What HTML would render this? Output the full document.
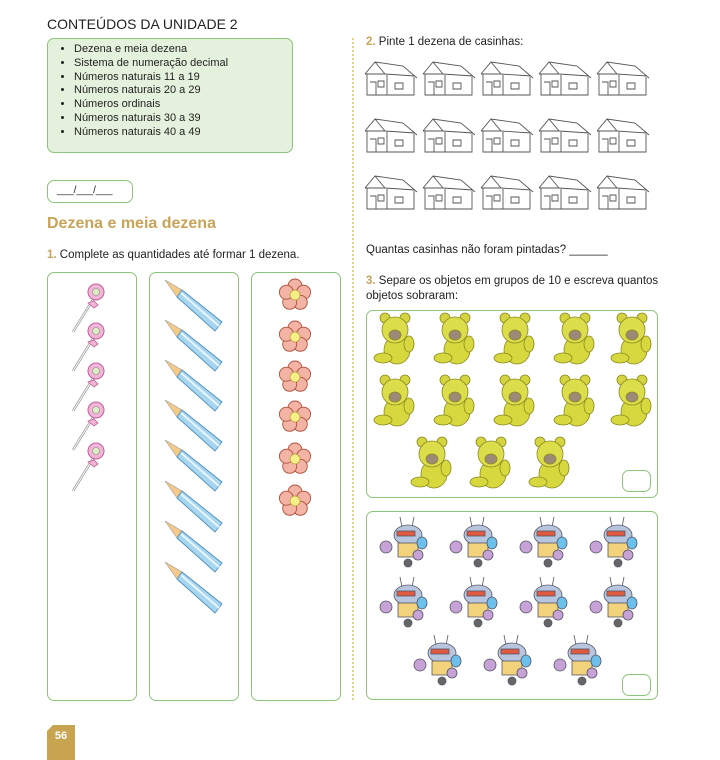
<!DOCTYPE html>
<html><head><meta charset="utf-8">
<style>
body{margin:0;width:720px;height:760px;background:#fff;position:relative;overflow:hidden;font-family:"Liberation Sans",sans-serif;color:#222}
.a{position:absolute}
.box{position:absolute;border:1.5px solid #8cc47a;border-radius:7px;box-sizing:border-box;background:#fff}
.t{position:absolute;font-size:11.5px;white-space:nowrap}
.n{color:#c8a35a;font-weight:bold}
svg{position:absolute;left:0;top:0}
</style></head><body>
<div class="t" style="left:47px;top:16px;font-size:14px">CONTEÚDOS DA UNIDADE 2</div>
<div class="box" style="left:47px;top:38px;width:246px;height:115px;background:#e4f1dc">
<ul style="margin:4px 0 0 0;padding-left:26px;font-size:11px;line-height:13.8px">
<li>Dezena e meia dezena</li><li>Sistema de numeração decimal</li><li>Números naturais 11 a 19</li><li>Números naturais 20 a 29</li><li>Números ordinais</li><li>Números naturais 30 a 39</li><li>Números naturais 40 a 49</li></ul></div>
<div class="box" style="left:47px;top:180px;width:86px;height:23px;font-size:10px;padding:4px 0 0 9px">___/___/___</div>
<div class="t" style="left:47px;top:215px;font-size:16px;font-weight:bold;color:#c8a35a">Dezena e meia dezena</div>
<div class="t" style="left:47px;top:249px"><span class="n">1.</span> Complete as quantidades até formar 1 dezena.</div>
<div class="box" style="left:47px;top:272px;width:90px;height:429px"></div>
<div class="box" style="left:149px;top:272px;width:90px;height:429px"></div>
<div class="box" style="left:251px;top:272px;width:90px;height:429px"></div>
<div class="a" style="left:352px;top:38px;height:662px;border-left:2px dotted #e0d28a"></div>
<div class="t" style="left:366px;top:36px"><span class="n">2.</span> Pinte 1 dezena de casinhas:</div>
<div class="t" style="left:366px;top:244px">Quantas casinhas não foram pintadas? ______</div>
<div class="t" style="left:366px;top:274px;line-height:15px"><span class="n">3.</span> Separe os objetos em grupos de 10 e escreva quantos<br>objetos sobraram:</div>
<div class="box" style="left:366px;top:310px;width:292px;height:188px"></div>
<div class="box" style="left:622px;top:470px;width:29px;height:22px"></div>
<div class="box" style="left:366px;top:511px;width:292px;height:189px"></div>
<div class="box" style="left:622px;top:674px;width:29px;height:22px"></div>
<div class="a" style="left:47px;top:725px;width:28px;height:35px;background:#c8a450;color:#fff;font-weight:bold;font-size:11px;text-align:center;line-height:22px;clip-path:polygon(6px 0,100% 0,100% 100%,0 100%,0 6px)">56</div>
<svg id="s" width="720" height="760"></svg>
<script>
const houseRows=[62,119,176], houseCols=[363,421,479,537,595];
const lolliY=[292,331,371,410,451];
const pencilY=[280,320,360,400,440,481,521,562];
const flowerY=[295,337,377,417,459,501];
const bearPos=[[395,340],[455,340],[515,340],[575,340],[632,340],[395,402],[455,402],[515,402],[575,402],[632,402],[432,464],[491,464],[550,464]];
const robotPos=[[406,545],[476,545],[546,545],[616,545],[406,605],[476,605],[546,605],[616,605],[440,663],[510,663],[580,663]];
const s=document.getElementById('s');let h='';
houseRows.forEach(y=>houseCols.forEach(x=>{h+=`<g stroke="#555" fill="none" stroke-width="0.9"><path d="M${x+2} ${y+12}L${x+12} ${y} L${x+40} ${y+4} L${x+54} ${y+16} M${x+12} ${y}L${x+22} ${y+12} L${x+2} ${y+12} M${x+22} ${y+12}L${x+52} ${y+14} M${x+4} ${y+12}V${y+33}H${x+51}V${y+15} M${x+24} ${y+13}V${y+33} M${x+7} ${y+20}h6v13 M${x+15} ${y+19}h6v6h-6z M${x+32} ${y+21}h8v6h-8z"/></g>`}));
lolliY.forEach(y=>{h+=`<line x1="94" y1="${y+6}" x2="73" y2="${y+40}" stroke="#999" stroke-width="2.5"/><line x1="94" y1="${y+6}" x2="73" y2="${y+40}" stroke="#fff" stroke-width="1"/><circle cx="96" cy="${y}" r="8" fill="#f2b5d6" stroke="#c0609a"/><circle cx="96" cy="${y}" r="3.5" fill="#dcefc4" stroke="#888" stroke-width=".6"/><path d="M88 ${y+11}l6 -2 4 4 -4 3z" fill="#f2b5d6" stroke="#c0609a" stroke-width=".8"/>`});
pencilY.forEach(y=>{h+=`<path d="M165 ${y} L182 ${y+10} L177 ${y+17}z" fill="#f4c98a" stroke="#999" stroke-width=".6"/><path d="M182 ${y+10} L222 ${y+42} L215 ${y+51} L177 ${y+17}z" fill="#a9d6ef" stroke="#4a8fc0" stroke-width=".9"/><line x1="181" y1="${y+13}" x2="219" y2="${y+46}" stroke="#e7f5fc" stroke-width="2"/>`});
flowerY.forEach(y=>{let p='';for(let i=0;i<5;i++){const a=i*72*Math.PI/180-Math.PI/2;p+=`<circle cx="${(295+9*Math.cos(a)).toFixed(1)}" cy="${(y+9*Math.sin(a)).toFixed(1)}" r="7" fill="#f3b4a6" stroke="#b0503c" stroke-width=".9"/>`}h+=p+`<circle cx="295" cy="${y}" r="5" fill="#f4ef88" stroke="#b59a30" stroke-width=".7"/>`});
bearPos.forEach(([x,y])=>{h+=`<g stroke="#8a8a20" stroke-width=".8"><circle cx="${x-10}" cy="${y-22}" r="5" fill="#d4d440"/><circle cx="${x+10}" cy="${y-22}" r="5" fill="#d4d440"/><ellipse cx="${x+2}" cy="${y+10}" rx="13" ry="14" fill="#d6d83e"/><ellipse cx="${x-12}" cy="${y+18}" rx="9" ry="5" fill="#d6d83e"/><ellipse cx="${x+14}" cy="${y+4}" rx="5" ry="8" fill="#d6d83e"/><ellipse cx="${x}" cy="${y-10}" rx="13" ry="13" fill="#dcdd4a"/><ellipse cx="${x}" cy="${y-5}" rx="6" ry="5" fill="#9b8a78"/></g>`});
robotPos.forEach(([x,y])=>{h+=`<g stroke="#556" stroke-width=".8"><line x1="${x-6}" y1="${y-28}" x2="${x-4}" y2="${y-18}"/><line x1="${x+8}" y1="${y-28}" x2="${x+6}" y2="${y-18}"/><ellipse cx="${x+2}" cy="${y-10}" rx="14" ry="10" fill="#b7c6de"/><rect x="${x-9}" y="${y-14}" width="18" height="5" fill="#e05a40"/><rect x="${x-8}" y="${y-2}" width="20" height="14" fill="#f2d27a"/><circle cx="${x+2}" cy="${y+18}" r="4" fill="#666"/><circle cx="${x-20}" cy="${y+2}" r="6" fill="#c7a2d6"/><circle cx="${x+12}" cy="${y+10}" r="5" fill="#c7a2d6"/><ellipse cx="${x+16}" cy="${y-2}" rx="5" ry="6" fill="#6cc0ec"/></g>`});
s.innerHTML=h;
</script>
</body></html>
